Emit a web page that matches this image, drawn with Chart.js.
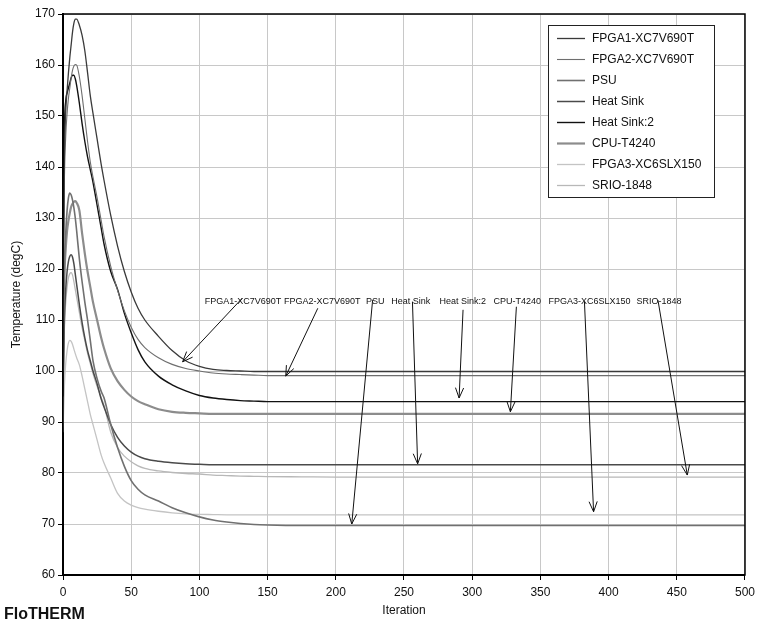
<!DOCTYPE html>
<html>
<head>
<meta charset="utf-8">
<script src="https://cdn.jsdelivr.net/npm/chart.js@4/dist/chart.umd.min.js"></script>
<style>
  html, body { margin: 0; padding: 0; background: #fff; }
  #wrap { width: 760px; height: 638px; }
</style>
</head>
<body>
<div id="wrap"><canvas id="tempChart" width="760" height="638"></canvas></div>
<script>
//iteraties (x-as)
const iterations = [0,1,2,3,4,5,6,7,8,9,10,12,14,16,18,20,22,25,28,30,35,40,45,50,55,60,70,80,90,100,110,120,130,140,150,175,200,250,300,350,400,450,500];

//temperaturen per component (degC)
const fpga1 = [115,142,151,155,158.5,161.5,164,166.5,168.2,169,169,167.8,165.8,162.8,158.5,154,150.5,145.5,140.5,137.5,130.5,124.5,119.5,115.5,112.3,110,106.8,104,102,100.9,100.3,100.1,100,99.9,99.9,99.9,99.9,99.9,99.9,99.9,99.9,99.9,99.9];
const fpga2 = [112,137,146,150.5,153.5,155.5,157.5,159,159.8,160.1,160,157.7,154,149.5,145,141,138,134,129.5,126.5,120.5,115.8,111.8,108.6,106.2,104.6,102.6,101.3,100.5,100,99.6,99.4,99.3,99.2,99.1,99.1,99.1,99.1,99.1,99.1,99.1,99.1,99.1];
const psu = [100,120,127,131.5,134,134.9,134.5,133.5,132,130,127.5,122,117.5,113.5,110,106,102,98.5,96,94.8,89.5,85,81.3,78.5,76.8,75.7,74.5,73.2,72.2,71.4,70.8,70.4,70.1,69.9,69.8,69.7,69.7,69.7,69.7,69.7,69.7,69.7,69.7];
const heatSink = [95,110,116,119.5,121.5,122.5,122.8,122.3,121,119,117,113,109.5,106.5,104,102,100,97.5,94.5,93,89.5,87,85.3,84.1,83.3,82.8,82.3,82,81.8,81.7,81.6,81.6,81.6,81.6,81.6,81.6,81.6,81.6,81.6,81.6,81.6,81.6,81.6];
const heatSink2 = [110,146,153,154.5,155.5,156.5,157.5,158,158,157.3,156,152.5,148.5,145,142,139.5,137,132.5,128,125,119.5,116,111.3,107.5,104.2,101.8,99,97.3,96.1,95.2,94.7,94.4,94.2,94.1,94,94,94,94,94,94,94,94,94];
const cpu = [100,118,124,127.5,129.5,131,132.2,132.8,133.2,133.3,133,131.5,127,123,119.5,116.5,113.5,110,106.5,104.5,100.5,98,96.3,95,94.1,93.5,92.5,92,91.8,91.7,91.6,91.6,91.6,91.6,91.6,91.6,91.6,91.6,91.6,91.6,91.6,91.6,91.6];
const fpga3 = [88,97,101.5,104,105.5,106,105.8,105.2,104.3,103.4,102.6,101.2,99,96.5,94,91.5,89.5,86.5,83.5,82,79,76,74.5,73.7,73.2,72.9,72.5,72.2,72,71.9,71.85,71.8,71.8,71.8,71.8,71.8,71.8,71.8,71.8,71.8,71.8,71.8,71.8];
const srio = [92,108,113.5,116.5,118.3,119.1,119.3,118.8,117.5,116,114.5,111.5,108.5,106,103.5,101.5,99.5,97,94.8,93.3,88,85,83.3,82.2,81.4,80.9,80.4,80.1,79.9,79.8,79.6,79.5,79.4,79.35,79.3,79.25,79.2,79.2,79.2,79.2,79.2,79.2,79.2];

const seriesNames = ['FPGA1-XC7V690T','FPGA2-XC7V690T','PSU','Heat Sink','Heat Sink:2','CPU-T4240','FPGA3-XC6SLX150','SRIO-1848'];
const seriesValues = [fpga1, fpga2, psu, heatSink, heatSink2, cpu, fpga3, srio];
const seriesColors = ['#3a3a3a','#6e6e6e','#707070','#4a4a4a','#111111','#8c8c8c','#c4c4c4','#b8b8b8'];
const seriesWidths = [1.3, 1.1, 1.6, 1.5, 1.4, 2.2, 1.3, 1.3];

const yTicks = [60,70,80,90,100,110,120,130,140,150,160,170];
const xTicks = [0,50,100,150,200,250,300,350,400,450,500];

//annotaties: label positie en pijl (in data-eenheden)
const annLabelX = [132, 190, 229, 255, 293, 333, 386, 437];
const annLabelY = 113.6;
const annStartX = [131.5, 186.8, 227, 256.2, 293.3, 332.4, 382.3, 436.2];
const annStartY = [114.3, 112.3, 113.9, 113.6, 112, 112.6, 113.6, 113.9];
const annTipX = [87.7, 163.3, 211.7, 260, 290.4, 328, 389, 457.7];
const annTipY = [101.8, 99.0, 70.0, 81.8, 94.7, 92.0, 72.4, 79.6];

const FONT = '"Liberation Sans", Arial, sans-serif';

//pijl met open V-punt
function drawArrow(ctx, x1, y1, x2, y2) {
  const ang = Math.atan2(y2 - y1, x2 - x1);
  const head = 11, spread = 0.38;
  ctx.beginPath();
  ctx.moveTo(x1, y1);
  ctx.lineTo(x2, y2);
  ctx.moveTo(x2 - head * Math.cos(ang - spread), y2 - head * Math.sin(ang - spread));
  ctx.lineTo(x2, y2);
  ctx.lineTo(x2 - head * Math.cos(ang + spread), y2 - head * Math.sin(ang + spread));
  ctx.stroke();
}

const extrasPlugin = {
  id: 'extras',
  afterDraw(chart) {
    const ctx = chart.ctx;
    const xs = chart.scales.x, ys = chart.scales.y;
    const area = chart.chartArea;
    ctx.save();

    //kader rond plotgebied
    ctx.strokeStyle = '#000';
    ctx.lineWidth = 1.5;
    ctx.strokeRect(area.left, area.top, area.right - area.left, area.bottom - area.top);

    //annotaties
    ctx.font = '9px ' + FONT;
    ctx.fillStyle = '#111';
    ctx.textAlign = 'center';
    ctx.textBaseline = 'middle';
    seriesNames.forEach((name, i) => {
      ctx.fillText(name, xs.getPixelForValue(annLabelX[i]), ys.getPixelForValue(annLabelY));
    });
    ctx.strokeStyle = '#111';
    ctx.lineWidth = 1;
    seriesNames.forEach((name, i) => {
      drawArrow(ctx,
        xs.getPixelForValue(annStartX[i]), ys.getPixelForValue(annStartY[i]),
        xs.getPixelForValue(annTipX[i]), ys.getPixelForValue(annTipY[i]));
    });

    //legenda
    const lx = 548, ly = 25, lw = 166, lh = 172;
    ctx.fillStyle = '#fff';
    ctx.fillRect(lx, ly, lw, lh);
    ctx.strokeStyle = '#222';
    ctx.lineWidth = 1;
    ctx.strokeRect(lx + 0.5, ly + 0.5, lw, lh);
    ctx.font = '12px ' + FONT;
    ctx.textAlign = 'left';
    ctx.textBaseline = 'middle';
    chart.data.datasets.forEach((ds, i) => {
      const y = 38.5 + i * 21;
      ctx.strokeStyle = ds.borderColor;
      ctx.lineWidth = ds.borderWidth;
      ctx.beginPath();
      ctx.moveTo(557, y);
      ctx.lineTo(585, y);
      ctx.stroke();
      ctx.fillStyle = '#111';
      ctx.fillText(ds.label, 592, y + 0.5);
    });

    //astitels
    ctx.fillStyle = '#111';
    ctx.font = '12px ' + FONT;
    ctx.textAlign = 'center';
    ctx.fillText('Iteration', (area.left + area.right) / 2, 611);
    ctx.save();
    ctx.translate(17, (area.top + area.bottom) / 2);
    ctx.rotate(-Math.PI / 2);
    ctx.fillText('Temperature (degC)', 0, 0);
    ctx.restore();

    ctx.font = 'bold 16px ' + FONT;
    ctx.textAlign = 'left';
    ctx.fillText('FloTHERM', 4, 615);
    ctx.restore();
  }
};

document.addEventListener('DOMContentLoaded', function() {
  const datasets = seriesNames.map((name, i) => ({
    label: name,
    data: iterations.map((it, k) => ({ x: it, y: seriesValues[i][k] })),
    borderColor: seriesColors[i],
    borderWidth: seriesWidths[i],
    pointRadius: 0,
    fill: false,
    cubicInterpolationMode: 'monotone'
  }));

  const ctx = document.getElementById('tempChart').getContext('2d');
  new Chart(ctx, {
    type: 'line',
    data: { datasets: datasets },
    options: {
      responsive: false,
      animation: false,
      layout: { padding: { top: 14, right: 14, left: 0, bottom: 0 } },
      plugins: { legend: { display: false }, tooltip: { enabled: false } },
      scales: {
        x: {
          type: 'linear', min: 0, max: 500,
          afterBuildTicks: s => { s.ticks = xTicks.map(v => ({ value: v })); },
          afterFit: s => { s.height = 63; },
          ticks: { font: { family: FONT, size: 12 }, color: '#111', padding: 5, maxRotation: 0 },
          grid: { color: '#c8c8c8', lineWidth: 1, tickColor: '#000', tickLength: 5 },
          border: { color: '#000', width: 2 }
        },
        y: {
          type: 'linear', min: 60, max: 170,
          afterBuildTicks: s => { s.ticks = yTicks.map(v => ({ value: v })); },
          afterFit: s => { s.width = 63; },
          ticks: { font: { family: FONT, size: 12 }, color: '#111', padding: 3 },
          grid: { color: '#c8c8c8', lineWidth: 1, tickColor: '#000', tickLength: 5 },
          border: { color: '#000', width: 2 }
        }
      }
    },
    plugins: [extrasPlugin]
  });
});
</script>
</body>
</html>
